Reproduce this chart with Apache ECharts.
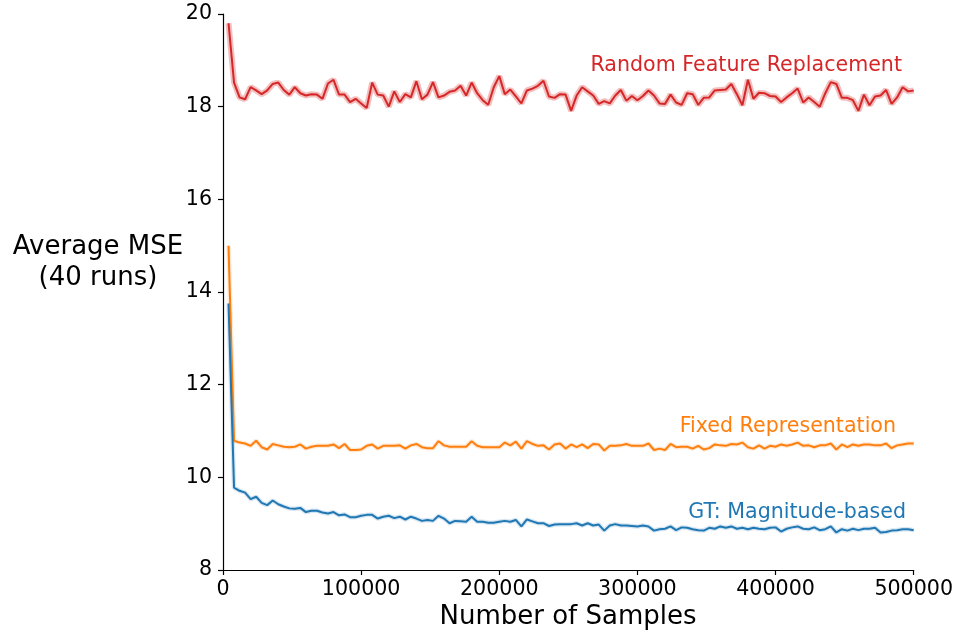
<!DOCTYPE html>
<html>
<head>
<meta charset="utf-8">
<script src="https://cdn.jsdelivr.net/npm/echarts@6/dist/echarts.min.js"></script>
<style>html,body{margin:0;padding:0;background:#fff;}#c{width:956px;height:636px;}</style>
</head>
<body>
<div id="c"></div>
<script>
const samples = [4000,8000,12000,16000,20000,24000,28000,32000,36000,40000,44000,48000,52000,56000,60000,64000,68000,72000,76000,80000,84000,88000,92000,96000,100000,104000,108000,112000,116000,120000,124000,128000,132000,136000,140000,144000,148000,152000,156000,160000,164000,168000,172000,176000,180000,184000,188000,192000,196000,200000,204000,208000,212000,216000,220000,224000,228000,232000,236000,240000,244000,248000,252000,256000,260000,264000,268000,272000,276000,280000,284000,288000,292000,296000,300000,304000,308000,312000,316000,320000,324000,328000,332000,336000,340000,344000,348000,352000,356000,360000,364000,368000,372000,376000,380000,384000,388000,392000,396000,400000,404000,408000,412000,416000,420000,424000,428000,432000,436000,440000,444000,448000,452000,456000,460000,464000,468000,472000,476000,480000,484000,488000,492000,496000,500000];

const randomFeature = [19.80,18.52,18.20,18.16,18.42,18.35,18.27,18.35,18.49,18.52,18.36,18.26,18.42,18.29,18.24,18.27,18.26,18.17,18.50,18.58,18.26,18.26,18.10,18.17,18.07,17.97,18.52,18.26,18.24,18.00,18.33,18.10,18.27,18.20,18.55,18.16,18.26,18.53,18.20,18.24,18.32,18.35,18.45,18.24,18.52,18.29,18.14,18.04,18.42,18.66,18.27,18.37,18.22,18.07,18.35,18.39,18.45,18.56,18.22,18.19,18.27,18.26,17.91,18.24,18.42,18.33,18.24,18.06,18.12,18.07,18.24,18.36,18.13,18.23,18.14,18.23,18.35,18.24,18.07,18.06,18.26,18.09,18.04,18.29,18.27,18.04,18.19,18.20,18.35,18.36,18.37,18.49,18.27,18.03,18.58,18.17,18.30,18.29,18.23,18.22,18.10,18.20,18.29,18.39,18.09,18.20,18.10,18.00,18.29,18.53,18.49,18.19,18.19,18.14,17.91,18.26,18.03,18.22,18.24,18.36,18.06,18.20,18.42,18.33,18.35];

const fixedRep = [15.00,10.79,10.75,10.73,10.68,10.79,10.65,10.60,10.72,10.69,10.66,10.65,10.66,10.71,10.62,10.66,10.68,10.68,10.68,10.71,10.63,10.72,10.59,10.59,10.60,10.68,10.71,10.62,10.68,10.68,10.68,10.69,10.62,10.69,10.72,10.65,10.63,10.63,10.78,10.69,10.66,10.66,10.66,10.66,10.78,10.68,10.65,10.65,10.65,10.65,10.75,10.69,10.77,10.62,10.78,10.72,10.68,10.69,10.60,10.71,10.73,10.62,10.71,10.65,10.71,10.63,10.72,10.71,10.58,10.68,10.68,10.69,10.72,10.68,10.68,10.68,10.73,10.59,10.62,10.59,10.72,10.65,10.66,10.66,10.62,10.68,10.60,10.63,10.71,10.69,10.68,10.72,10.71,10.75,10.65,10.62,10.69,10.62,10.68,10.66,10.71,10.68,10.71,10.75,10.68,10.69,10.65,10.69,10.69,10.73,10.60,10.71,10.65,10.71,10.68,10.71,10.71,10.69,10.69,10.73,10.63,10.69,10.71,10.73,10.73];

const gtMagnitude = [13.75,9.78,9.71,9.67,9.53,9.58,9.45,9.40,9.50,9.42,9.37,9.33,9.32,9.34,9.25,9.28,9.28,9.24,9.22,9.25,9.18,9.20,9.14,9.14,9.17,9.19,9.19,9.11,9.15,9.17,9.12,9.15,9.09,9.15,9.11,9.06,9.08,9.06,9.17,9.11,9.01,9.06,9.05,9.04,9.15,9.04,9.04,9.02,9.02,9.04,9.06,9.04,9.08,8.94,9.09,9.05,9.01,9.01,8.95,8.98,8.99,8.99,8.99,9.01,8.96,9.01,8.96,8.98,8.85,8.96,8.99,8.96,8.96,8.95,8.94,8.96,8.94,8.85,8.88,8.89,8.94,8.86,8.92,8.91,8.88,8.86,8.85,8.91,8.89,8.94,8.91,8.94,8.89,8.91,8.88,8.91,8.89,8.88,8.91,8.92,8.83,8.89,8.92,8.94,8.89,8.88,8.92,8.86,8.88,8.94,8.81,8.88,8.85,8.89,8.86,8.89,8.89,8.91,8.81,8.82,8.85,8.86,8.88,8.88,8.86];

const seriesNames = ['Random Feature Replacement', 'Fixed Representation', 'GT: Magnitude-based'];
const seriesColors = ['#d62728', '#ff7f0e', '#1f77b4'];
const xTicks = [0, 100000, 200000, 300000, 400000, 500000];
const yTicks = [8, 10, 12, 14, 16, 18, 20];

const FONT = 'DejaVu Sans';
const chart = echarts.init(document.getElementById('c'), null, {renderer: 'canvas'});

function pairs(ys) { return samples.map((x, i) => [x, ys[i]]); }
const allSeries = [randomFeature, fixedRep, gtMagnitude];

const series = [];
allSeries.forEach((ys, i) => {
  series.push({
    type: 'line', data: pairs(ys), symbol: 'none', silent: true,
    lineStyle: {color: seriesColors[i], width: i === 0 ? 6 : 4.5, opacity: i === 0 ? 0.3 : 0.18},
    z: 1
  });
  series.push({
    name: seriesNames[i], type: 'line', data: pairs(ys), symbol: 'none',
    lineStyle: {color: seriesColors[i], width: 2},
    z: 2
  });
});

chart.setOption({
  animation: false,
  backgroundColor: '#ffffff',
  grid: {left: 223, right: 41, top: 14, bottom: 66, containLabel: false},
  xAxis: {
    type: 'value', min: xTicks[0], max: xTicks[xTicks.length - 1], interval: 100000,
    axisLine: {show: true, onZero: false, lineStyle: {color: '#000', width: 1.2}},
    axisTick: {show: true, length: 5, lineStyle: {color: '#000', width: 1.2}},
    axisLabel: {color: '#000', fontFamily: FONT, fontSize: 20.6, margin: 9, formatter: v => String(v)},
    splitLine: {show: false}
  },
  yAxis: {
    type: 'value', min: yTicks[0], max: yTicks[yTicks.length - 1], interval: 2,
    axisLine: {show: true, onZero: false, lineStyle: {color: '#000', width: 1.2}},
    axisTick: {show: true, length: 5, lineStyle: {color: '#000', width: 1.2}},
    axisLabel: {color: '#000', fontFamily: FONT, fontSize: 20.6, margin: 11, formatter: v => String(v)},
    splitLine: {show: false}
  },
  graphic: [
    {type: 'text', x: 98, y: 247, style: {text: 'Average MSE', fill: '#000', font: '26px "DejaVu Sans"', textAlign: 'center', textVerticalAlign: 'middle'}},
    {type: 'text', x: 98, y: 278, style: {text: '(40 runs)', fill: '#000', font: '26px "DejaVu Sans"', textAlign: 'center', textVerticalAlign: 'middle'}},
    {type: 'text', x: 568, y: 617, style: {text: 'Number of Samples', fill: '#000', font: '26px "DejaVu Sans"', textAlign: 'center', textVerticalAlign: 'middle'}},
    {type: 'text', x: 902, y: 66, style: {text: seriesNames[0], fill: seriesColors[0], font: '20.6px "DejaVu Sans"', textAlign: 'right', textVerticalAlign: 'middle'}},
    {type: 'text', x: 896, y: 427, style: {text: seriesNames[1], fill: seriesColors[1], font: '20.6px "DejaVu Sans"', textAlign: 'right', textVerticalAlign: 'middle'}},
    {type: 'text', x: 906, y: 513, style: {text: seriesNames[2], fill: seriesColors[2], font: '20.6px "DejaVu Sans"', textAlign: 'right', textVerticalAlign: 'middle'}}
  ],
  series: series
});
</script>
</body>
</html>
